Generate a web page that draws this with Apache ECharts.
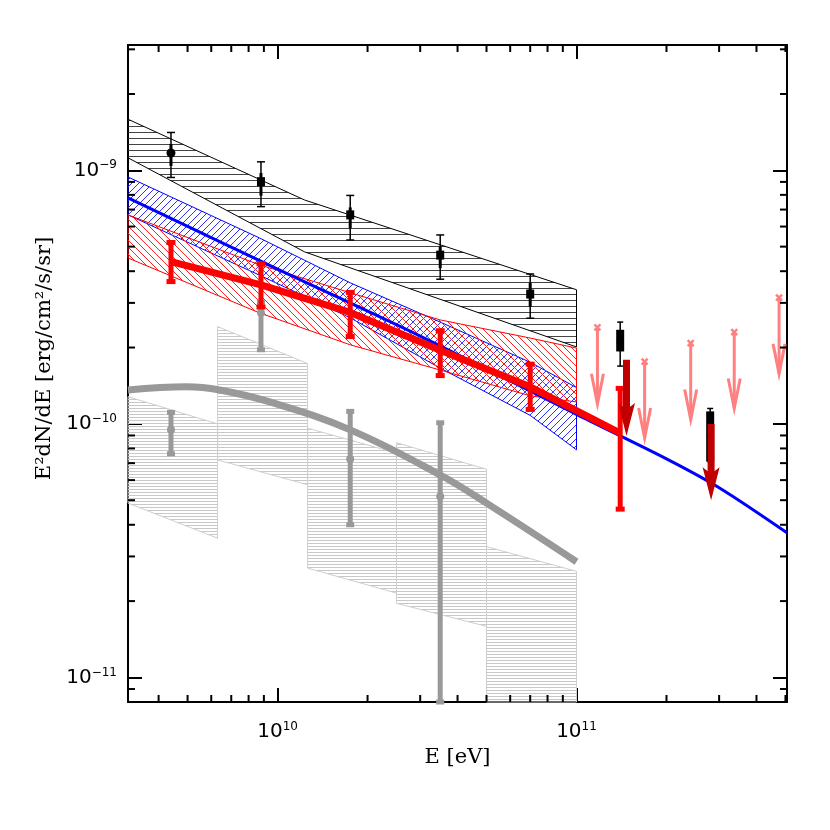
<!DOCTYPE html>
<html>
<head>
<meta charset="utf-8">
<script src="https://cdn.jsdelivr.net/npm/echarts@6/dist/echarts.min.js"></script>
<style>
html, body { margin: 0; padding: 0; background: #fff; }
#chart { width: 830px; height: 830px; }
</style>
</head>
<body>
<div id="chart"></div>
<script>
// axis ranges
var X_MIN = 3.16e9, X_MAX = 5.06e11;
var Y_MIN = 8e-12, Y_MAX = 3.12e-9;

// minor tick values
var MINOR_X = [4e9, 5e9, 6e9, 7e9, 8e9, 9e9, 2e10, 3e10, 4e10, 5e10, 6e10, 7e10, 8e10, 9e10, 2e11, 3e11, 4e11, 5e11];
var MINOR_Y = [9e-12, 2e-11, 3e-11, 4e-11, 5e-11, 6e-11, 7e-11, 8e-11, 9e-11,
    2e-10, 3e-10, 4e-10, 5e-10, 6e-10, 7e-10, 8e-10, 9e-10, 2e-9, 3e-9];

// black hatched band
var BLK_BAND_E = [3.16e9, 1.23e10, 1.0e11];
var BLK_BAND_HI = [1.59e-9, 7.64e-10, 3.38e-10];
var BLK_BAND_LO = [1.12e-9, 4.77e-10, 2.01e-10];

// blue hatched band
var BLUE_BAND_E = [3.16e9, 8.7e9, 1.75e10, 3.5e10, 7.0e10, 1.0e11];
var BLUE_BAND_HI = [9.41e-10, 5.41e-10, 3.60e-10, 2.52e-10, 1.75e-10, 1.39e-10];
var BLUE_BAND_LO = [6.67e-10, 3.86e-10, 2.62e-10, 1.66e-10, 1.08e-10, 7.9e-11];

// red hatched band
var RED_BAND_E = [3.16e9, 8.7e9, 1.75e10, 3.5e10, 7.0e10, 1.0e11];
var RED_BAND_HI = [6.67e-10, 4.24e-10, 3.29e-10, 2.57e-10, 2.18e-10, 1.99e-10];
var RED_BAND_LO = [4.51e-10, 2.74e-10, 2.05e-10, 1.63e-10, 1.29e-10, 1.22e-10];

// grey stepped band (one box per bin)
var GRY_BIN_E0 = [3.16e9, 6.3e9, 1.26e10, 2.5e10, 5.0e10];
var GRY_BIN_E1 = [6.3e9, 1.26e10, 2.5e10, 5.0e10, 1.0e11];
var GRY_BIN_TOP0 = [1.28e-10, 2.42e-10, 9.62e-11, 8.43e-11, 3.28e-11];
var GRY_BIN_TOP1 = [1.0e-10, 1.73e-10, 7.67e-11, 6.62e-11, 2.62e-11];
var GRY_BIN_BOT0 = [4.87e-11, 7.21e-11, 2.70e-11, 1.96e-11, 8e-12];
var GRY_BIN_BOT1 = [3.54e-11, 5.75e-11, 2.15e-11, 1.59e-11, 8e-12];

// grey model curve
var GRY_CURVE_E = [3.16e9, 4.95e9, 6.4e9, 9.42e9, 1.75e10, 3.49e10, 5.0e10, 1.0e11];
var GRY_CURVE_F = [1.36e-10, 1.40e-10, 1.36e-10, 1.22e-10, 9.47e-11, 6.3e-11, 4.87e-11, 2.86e-11];

// grey points
var GRY_E = [4.4e9, 8.8e9, 1.75e10, 3.5e10];
var GRY_F = [9.47e-11, 2.74e-10, 7.26e-11, 5.17e-11];
var GRY_LO = [7.62e-11, 1.96e-10, 4.0e-11, 8e-12];
var GRY_HI = [1.11e-10, 3.02e-10, 1.12e-10, 1.01e-10];

// blue model line
var BLUE_E = [3.16e9, 1e10, 3e10, 1e11, 2e11, 3e11, 5.06e11];
var BLUE_F = [7.78e-10, 4.08e-10, 2.22e-10, 1.09e-10, 7.28e-11, 5.6e-11, 3.72e-11];

// red points
var RED_E = [4.4e9, 8.8e9, 1.75e10, 3.5e10, 7.0e10, 1.4e11];
var RED_F = [4.36e-10, 3.53e-10, 2.75e-10, 1.95e-10, 1.40e-10, 9.2e-11];
var RED_LO = [3.64e-10, 2.89e-10, 2.21e-10, 1.55e-10, 1.14e-10, 4.61e-11];
var RED_HI = [5.19e-10, 4.28e-10, 3.30e-10, 2.33e-10, 1.72e-10, 1.38e-10];

// black points
var BLK_E = [4.4e9, 8.8e9, 1.75e10, 3.5e10, 7.0e10];
var BLK_F = [1.17e-9, 9.02e-10, 6.67e-10, 4.63e-10, 3.25e-10];
var BLK_STAT_LO = [1.04e-9, 7.94e-10, 5.90e-10, 4.11e-10, 2.90e-10];
var BLK_STAT_HI = [1.27e-9, 9.75e-10, 7.14e-10, 5.0e-10, 3.60e-10];
var BLK_SYS_LO = [9.37e-10, 7.19e-10, 5.31e-10, 3.72e-10, 2.61e-10];
var BLK_SYS_HI = [1.41e-9, 1.08e-9, 7.96e-10, 5.56e-10, 3.90e-10];

// black points above 100 GeV
var BLK_HE_E = [1.4e11, 2.8e11];
var BLK_HE_F = [2.11e-10, 8.9e-11];
var BLK_HE_LO = [1.93e-10, 7.1e-11];
var BLK_HE_HI = [2.35e-10, 1.12e-10];
var BLK_HE_SYS_LO = [1.69e-10, 7.1e-11];
var BLK_HE_SYS_HI = [2.52e-10, 1.15e-10];

// dark red upper limits
var DR_E = [1.47e11, 2.82e11];
var DR_F = [1.79e-10, 1.0e-10];

// pink upper limits
var UL_E = [1.175e11, 1.69e11, 2.41e11, 3.37e11, 4.76e11];
var UL_F = [2.40e-10, 1.76e-10, 2.08e-10, 2.30e-10, 3.15e-10];

function hatch(kind, color, step) {
    var c = document.createElement('canvas');
    c.width = step;
    c.height = step;
    var g = c.getContext('2d');
    g.strokeStyle = color;
    g.lineWidth = 1;
    g.beginPath();
    if (kind === 'h') {
        g.moveTo(0, 0.5); g.lineTo(step, 0.5);
    } else if (kind === '/') {
        g.moveTo(-1, step + 1); g.lineTo(step + 1, -1);
        g.moveTo(-1, 1); g.lineTo(1, -1);
        g.moveTo(step - 1, step + 1); g.lineTo(step + 1, step - 1);
    } else {
        g.moveTo(-1, -1); g.lineTo(step + 1, step + 1);
        g.moveTo(-1, step - 1); g.lineTo(1, step + 1);
        g.moveTo(step - 1, -1); g.lineTo(step + 1, 1);
    }
    g.stroke();
    return { image: c, repeat: 'repeat' };
}

var anchor = [[X_MIN, Y_MIN]];

function bandSeries(E, HI, LO, stroke, fill, z) {
    return {
        type: 'custom', z: z, silent: true, data: anchor,
        renderItem: function (params, api) {
            var pts = [];
            for (var i = 0; i < E.length; i++) pts.push(api.coord([E[i], HI[i]]));
            for (var j = E.length - 1; j >= 0; j--) pts.push(api.coord([E[j], LO[j]]));
            return { type: 'polygon', shape: { points: pts }, style: { fill: fill, stroke: stroke, lineWidth: 1 } };
        }
    };
}

function seg(x1, y1, x2, y2, color, w) {
    return { type: 'line', shape: { x1: x1, y1: y1, x2: x2, y2: y2 }, style: { stroke: color, lineWidth: w } };
}
function box(cx, cy, w, h, color) {
    return { type: 'rect', shape: { x: cx - w / 2, y: cy - h / 2, width: w, height: h }, style: { fill: color } };
}

function pow10Label(v) {
    var p = Math.log10(v);
    var r = Math.round(p);
    if (Math.abs(p - r) > 1e-6) return '';
    return '{b|10}{s|' + String(r).replace('-', '\u2212') + '}';
}

var labelFont = 'DejaVu Sans';
var titleFont = 'DejaVu Serif';
var labelRich = {
    b: { fontFamily: labelFont, fontSize: 20, color: '#000', lineHeight: 22 },
    s: { fontFamily: labelFont, fontSize: 12, color: '#000', verticalAlign: 'top', lineHeight: 12 }
};

function xAxisDef(pos, show) {
    return {
        type: 'log', logBase: 10, min: X_MIN, max: X_MAX, position: pos,
        axisLine: { show: true, lineStyle: { color: '#000', width: 2 } },
        axisTick: { show: true, inside: true, length: 14, lineStyle: { color: '#000', width: 2 } },
        splitLine: { show: false },
        axisLabel: {
            show: show, margin: 19, formatter: pow10Label,
            fontFamily: labelFont, fontSize: 20, color: '#000', rich: labelRich
        },
        name: show ? 'E [eV]' : '', nameLocation: 'middle', nameGap: 38,
        nameTextStyle: { fontFamily: titleFont, fontSize: 21, color: '#000' }
    };
}
function yAxisDef(pos, show) {
    return {
        type: 'log', logBase: 10, min: Y_MIN, max: Y_MAX, position: pos,
        axisLine: { show: true, lineStyle: { color: '#000', width: 2 } },
        axisTick: { show: true, inside: true, length: 14, lineStyle: { color: '#000', width: 2 } },
        splitLine: { show: false },
        axisLabel: {
            show: show, margin: 11, formatter: pow10Label,
            fontFamily: labelFont, fontSize: 20, color: '#000', rich: labelRich
        },
        name: show ? 'E\u00b2dN/dE [erg/cm\u00b2/s/sr]' : '', nameLocation: 'middle', nameGap: 72,
        nameTextStyle: { fontFamily: titleFont, fontSize: 21, color: '#000', padding: [0, 0, 0, 30] }
    };
}

var myChart = echarts.init(document.getElementById('chart'));
var option = {
    animation: false,
    backgroundColor: '#fff',
    grid: { left: 128, right: 43, top: 45, bottom: 128 },
    xAxis: [xAxisDef('bottom', true), xAxisDef('top', false)],
    yAxis: [yAxisDef('left', true), yAxisDef('right', false)],
    series: [
        // grey stepped band
        {
            type: 'custom', z: 1, silent: true, data: anchor,
            renderItem: function (params, api) {
                var fill = hatch('h', '#c8c8c8', 3);
                var kids = GRY_BIN_E0.map(function (e0, i) {
                    var pts = [api.coord([e0, GRY_BIN_TOP0[i]]), api.coord([GRY_BIN_E1[i], GRY_BIN_TOP1[i]]),
                        api.coord([GRY_BIN_E1[i], GRY_BIN_BOT1[i]]), api.coord([e0, GRY_BIN_BOT0[i]])];
                    return { type: 'polygon', shape: { points: pts }, style: { fill: fill, stroke: '#cfcfcf', lineWidth: 1 } };
                });
                return { type: 'group', children: kids };
            }
        },
        bandSeries(BLK_BAND_E, BLK_BAND_HI, BLK_BAND_LO, '#000', hatch('h', '#444', 6), 1),
        bandSeries(BLUE_BAND_E, BLUE_BAND_HI, BLUE_BAND_LO, '#0000ff', hatch('/', '#3030ff', 7), 2),
        bandSeries(RED_BAND_E, RED_BAND_HI, RED_BAND_LO, '#ff0000', hatch('\\', '#ff2020', 7), 2),
        // grey curve
        {
            type: 'line', z: 3, silent: true, symbol: 'none', smooth: 0.4,
            data: GRY_CURVE_E.map(function (e, i) { return [e, GRY_CURVE_F[i]]; }),
            lineStyle: { color: '#999', width: 7 }
        },
        // grey points
        {
            type: 'custom', z: 3, silent: true,
            data: GRY_E.map(function (e, i) { return [e, GRY_F[i], GRY_LO[i], GRY_HI[i]]; }),
            renderItem: function (params, api) {
                var p = api.coord([api.value(0), api.value(1)]);
                var lo = api.coord([api.value(0), api.value(2)]);
                var hi = api.coord([api.value(0), api.value(3)]);
                return { type: 'group', children: [
                    seg(p[0], lo[1], p[0], hi[1], '#999', 5),
                    box(p[0], lo[1], 8, 5, '#999'),
                    box(p[0], hi[1], 8, 5, '#999'),
                    { type: 'circle', shape: { cx: p[0], cy: p[1], r: 4 }, style: { fill: '#999' } }
                ] };
            }
        },
        // blue line
        {
            type: 'line', z: 4, silent: true, symbol: 'none', smooth: 0.3,
            data: BLUE_E.map(function (e, i) { return [e, BLUE_F[i]]; }),
            lineStyle: { color: '#0000ff', width: 3 }
        },
        // red line
        {
            type: 'line', z: 5, silent: true, symbol: 'none',
            data: RED_E.map(function (e, i) { return [e, RED_F[i]]; }),
            lineStyle: { color: '#ff0000', width: 7 }
        },
        // red error bars
        {
            type: 'custom', z: 5, silent: true,
            data: RED_E.map(function (e, i) { return [e, RED_F[i], RED_LO[i], RED_HI[i]]; }),
            renderItem: function (params, api) {
                var lo = api.coord([api.value(0), api.value(2)]);
                var hi = api.coord([api.value(0), api.value(3)]);
                return { type: 'group', children: [
                    seg(lo[0], lo[1], hi[0], hi[1], '#ff0000', 5),
                    box(lo[0], lo[1], 9, 5, '#ff0000'),
                    box(hi[0], hi[1], 9, 5, '#ff0000')
                ] };
            }
        },
        // black points
        {
            type: 'custom', z: 6, silent: true,
            data: BLK_E.map(function (e, i) { return [e, BLK_F[i], BLK_STAT_LO[i], BLK_STAT_HI[i], BLK_SYS_LO[i], BLK_SYS_HI[i]]; }),
            renderItem: function (params, api) {
                var x = api.value(0);
                var p = api.coord([x, api.value(1)]);
                var sl = api.coord([x, api.value(2)]);
                var sh = api.coord([x, api.value(3)]);
                var yl = api.coord([x, api.value(4)]);
                var yh = api.coord([x, api.value(5)]);
                var mark = params.dataIndex === 0 ?
                    { type: 'circle', shape: { cx: p[0], cy: p[1], r: 4.5 }, style: { fill: '#000' } } :
                    box(p[0], p[1], 8, 9, '#000');
                return { type: 'group', children: [
                    seg(p[0], yl[1], p[0], yh[1], '#000', 1.5),
                    seg(p[0] - 4, yl[1], p[0] + 4, yl[1], '#000', 1.5),
                    seg(p[0] - 4, yh[1], p[0] + 4, yh[1], '#000', 1.5),
                    seg(p[0], sl[1], p[0], sh[1], '#000', 3),
                    mark
                ] };
            }
        },
        // black high-energy points
        {
            type: 'custom', z: 6, silent: true,
            data: BLK_HE_E.map(function (e, i) { return [e, BLK_HE_F[i], BLK_HE_LO[i], BLK_HE_HI[i], BLK_HE_SYS_LO[i], BLK_HE_SYS_HI[i]]; }),
            renderItem: function (params, api) {
                var x = api.value(0);
                var p = api.coord([x, api.value(1)]);
                var sl = api.coord([x, api.value(2)]);
                var sh = api.coord([x, api.value(3)]);
                var yl = api.coord([x, api.value(4)]);
                var yh = api.coord([x, api.value(5)]);
                return { type: 'group', children: [
                    seg(p[0], yl[1], p[0], yh[1], '#000', 1.5),
                    seg(p[0] - 3, yl[1], p[0] + 3, yl[1], '#000', 1.5),
                    seg(p[0] - 3, yh[1], p[0] + 3, yh[1], '#000', 1.5),
                    seg(p[0], sl[1], p[0], sh[1], '#000', 8),
                    { type: 'circle', shape: { cx: p[0], cy: p[1], r: 3.5 }, style: { fill: '#000' } }
                ] };
            }
        },
        // pink upper limits
        {
            type: 'custom', z: 6, silent: true,
            data: UL_E.map(function (e, i) { return [e, UL_F[i]]; }),
            renderItem: function (params, api) {
                var x = api.value(0), f = api.value(1);
                var t = api.coord([x, f]);
                var b = api.coord([x, f * 0.5]);
                var c = '#ff8080';
                return { type: 'group', children: [
                    seg(t[0], t[1], b[0], b[1], c, 3),
                    { type: 'polyline', shape: { points: [[b[0] - 6, b[1] - 30], [b[0], b[1]], [b[0] + 6, b[1] - 30]] },
                        style: { stroke: c, lineWidth: 3, fill: null } },
                    seg(t[0] - 3, t[1] - 3, t[0] + 3, t[1] + 3, c, 2.5),
                    seg(t[0] - 3, t[1] + 3, t[0] + 3, t[1] - 3, c, 2.5)
                ] };
            }
        },
        // dark red upper limits
        {
            type: 'custom', z: 7, silent: true,
            data: DR_E.map(function (e, i) { return [e, DR_F[i]]; }),
            renderItem: function (params, api) {
                var x = api.value(0), f = api.value(1);
                var t = api.coord([x, f]);
                var b = api.coord([x, f * 0.5]);
                var c = '#c00000';
                return { type: 'group', children: [
                    seg(t[0], t[1], b[0], b[1] - 26, c, 7),
                    { type: 'polygon', shape: { points: [[b[0], b[1]], [b[0] - 8.5, b[1] - 33], [b[0] - 2, b[1] - 28],
                        [b[0] + 2, b[1] - 28], [b[0] + 8.5, b[1] - 33]] }, style: { fill: c } }
                ] };
            }
        },
        // minor ticks on all four sides
        {
            type: 'custom', z: 8, silent: true, data: anchor,
            renderItem: function (params, api) {
                var cs = params.coordSys;
                var kids = [];
                MINOR_X.forEach(function (v) {
                    var px = api.coord([v, Y_MIN])[0];
                    kids.push(seg(px, cs.y + cs.height, px, cs.y + cs.height - 7, '#000', 2));
                    kids.push(seg(px, cs.y, px, cs.y + 7, '#000', 2));
                });
                MINOR_Y.forEach(function (v) {
                    var py = api.coord([X_MIN, v])[1];
                    kids.push(seg(cs.x, py, cs.x + 7, py, '#000', 2));
                    kids.push(seg(cs.x + cs.width, py, cs.x + cs.width - 7, py, '#000', 2));
                });
                return { type: 'group', children: kids };
            }
        }
    ]
};
myChart.setOption(option);
</script>
</body>
</html>
